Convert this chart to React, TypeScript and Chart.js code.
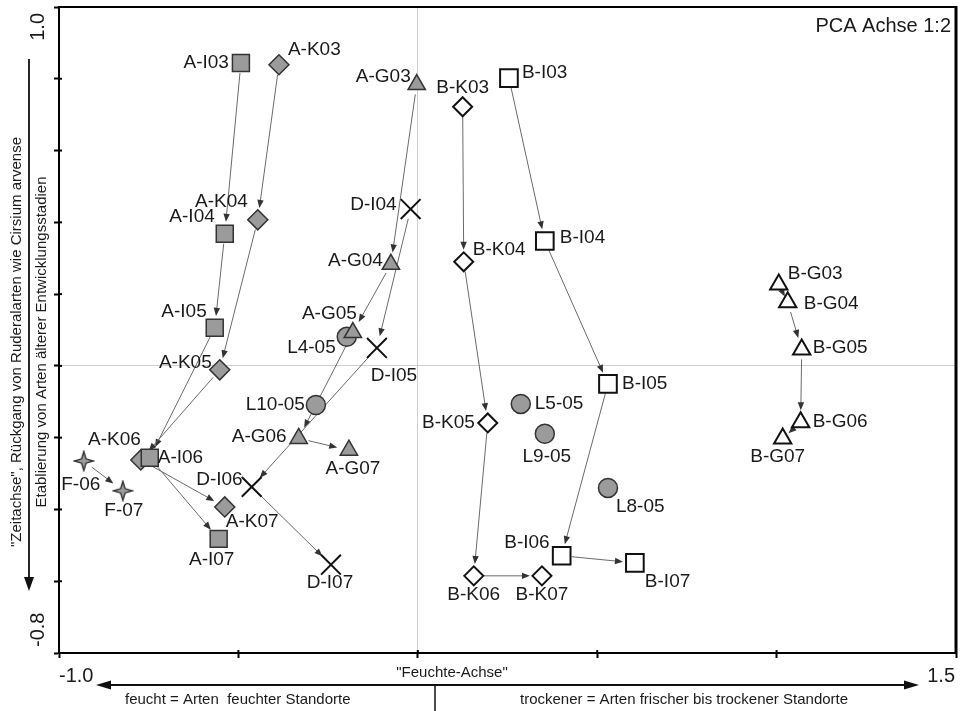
import React, { useEffect, useRef } from 'react';
import { Chart, registerables } from 'chart.js';

Chart.register(...registerables);

// ---- axis tick labels ----
const xTickValues = [-1.0, 1.5];
const xTickLabels = ['-1.0', '1.5'];
const yTickValues = [1.0, -0.8];
const yTickLabels = ['1.0', '-0.8'];

// ---- data (PCA scores) ----
const aiNames = ['A-I03', 'A-I04', 'A-I05', 'A-I06', 'A-I07'];
const aiX = [-0.493, -0.538, -0.566, -0.747, -0.555];
const aiY = [0.844, 0.368, 0.106, -0.256, -0.482];

const akNames = ['A-K03', 'A-K04', 'A-K05', 'A-K06', 'A-K07'];
const akX = [-0.387, -0.446, -0.552, -0.772, -0.538];
const akY = [0.839, 0.407, -0.011, -0.262, -0.393];

const agNames = ['A-G03', 'A-G04', 'A-G05', 'A-G06', 'A-G07'];
const agX = [-0.003, -0.075, -0.181, -0.332, -0.192];
const agY = [0.784, 0.283, 0.093, -0.202, -0.235];

const diNames = ['D-I04', 'D-I05', 'D-I06', 'D-I07'];
const diX = [-0.02, -0.114, -0.463, -0.242];
const diY = [0.437, 0.05, -0.337, -0.554];

const lNames = ['L4-05', 'L10-05', 'L5-05', 'L9-05', 'L8-05'];
const lX = [-0.198, -0.284, 0.287, 0.354, 0.53];
const lY = [0.081, -0.109, -0.106, -0.189, -0.34];

const fNames = ['F-06', 'F-07'];
const fX = [-0.931, -0.822];
const fY = [-0.265, -0.348];

const bkNames = ['B-K03', 'B-K04', 'B-K05', 'B-K06', 'B-K07'];
const bkX = [0.125, 0.128, 0.195, 0.156, 0.346];
const bkY = [0.722, 0.29, -0.159, -0.585, -0.585];

const biNames = ['B-I03', 'B-I04', 'B-I05', 'B-I06', 'B-I07'];
const biX = [0.254, 0.354, 0.53, 0.401, 0.605];
const biY = [0.802, 0.348, -0.05, -0.529, -0.549];

const bgNames = ['B-G03', 'B-G04', 'B-G05', 'B-G06', 'B-G07'];
const bgX = [1.006, 1.031, 1.07, 1.067, 1.017];
const bgY = [0.227, 0.177, 0.046, -0.157, -0.202];

// ---- label placement (style: pixel offset dx, dy and alignment) ----
type Pos = [number, number, CanvasTextAlign];
const aiPos: Pos[] = [[-12, 0, 'right'], [-10, -17, 'right'], [-8, -16, 'right'], [8, 0, 'left'], [-7, 21, 'center']];
const akPos: Pos[] = [[9, -15, 'left'], [-10, -18, 'right'], [-8, -7, 'right'], [0, -20, 'right'], [1, 15, 'left']];
const agPos: Pos[] = [[-6, -8, 'right'], [-8, -4, 'right'], [4, -19, 'right'], [-12, -2, 'right'], [4, 19, 'center']];
const diPos: Pos[] = [[-14, -4, 'right'], [17, 28, 'center'], [-9, -7, 'right'], [-1, 18, 'center']];
const lPos: Pos[] = [[-11, 11, 'right'], [-11, 0, 'right'], [14, 0, 'left'], [2, 23, 'center'], [8, 19, 'left']];
const fPos: Pos[] = [[-3, 24, 'center'], [1, 20, 'center']];
const bkPos: Pos[] = [[0, -19, 'center'], [9, -12, 'left'], [-13, 0, 'right'], [0, 19, 'center'], [0, 19, 'center']];
const biPos: Pos[] = [[13, -5, 'left'], [15, -3, 'left'], [14, 0, 'left'], [-12, -13, 'right'], [10, 19, 'left']];
const bgPos: Pos[] = [[9, -11, 'left'], [16, 1, 'left'], [11, -2, 'left'], [12, 0, 'left'], [-5, 18, 'center']];

const GRAY = '#9b9b9b';
const FONT = "'Liberation Sans', Arial, sans-serif";

function makeStar(): HTMLCanvasElement {
  const c = document.createElement('canvas');
  c.width = 22;
  c.height = 22;
  const g = c.getContext('2d')!;
  g.beginPath();
  g.moveTo(11, 1.5);
  g.lineTo(13.2, 8.8);
  g.lineTo(20.5, 11);
  g.lineTo(13.2, 13.2);
  g.lineTo(11, 20.5);
  g.lineTo(8.8, 13.2);
  g.lineTo(1.5, 11);
  g.lineTo(8.8, 8.8);
  g.closePath();
  g.fillStyle = GRAY;
  g.fill();
  g.lineWidth = 1.4;
  g.strokeStyle = '#333';
  g.stroke();
  return c;
}

function drawArrow(ctx: CanvasRenderingContext2D, x1: number, y1: number, x2: number, y2: number) {
  const dx = x2 - x1;
  const dy = y2 - y1;
  const d = Math.hypot(dx, dy);
  if (d < 1) return;
  const ux = dx / d;
  const uy = dy / d;
  let sg = 10;
  let eg = 12;
  if (d < 40) {
    sg = d * 0.3;
    eg = d * 0.32;
  }
  const sx = x1 + ux * sg;
  const sy = y1 + uy * sg;
  const ex = x2 - ux * eg;
  const ey = y2 - uy * eg;
  const hl = Math.min(8, (d - sg - eg) * 0.8 + 3);
  const hw = 3.2;
  ctx.strokeStyle = '#6a6a6a';
  ctx.lineWidth = 1;
  ctx.beginPath();
  ctx.moveTo(sx, sy);
  ctx.lineTo(ex - ux * hl * 0.8, ey - uy * hl * 0.8);
  ctx.stroke();
  ctx.fillStyle = '#333';
  ctx.beginPath();
  ctx.moveTo(ex, ey);
  ctx.lineTo(ex - ux * hl - uy * hw, ey - uy * hl + ux * hw);
  ctx.lineTo(ex - ux * hl + uy * hw, ey - uy * hl - ux * hw);
  ctx.closePath();
  ctx.fill();
}

export default function App() {
  const ref = useRef<HTMLCanvasElement | null>(null);

  useEffect(() => {
    document.body.style.margin = '0';
    const star = makeStar();
    const groups = [
      { names: aiNames, xs: aiX, ys: aiY, pos: aiPos, style: 'rect', r: 12, fill: GRAY, stroke: '#333', bw: 1.5, arrows: true },
      { names: akNames, xs: akX, ys: akY, pos: akPos, style: 'rectRot', r: 10, fill: GRAY, stroke: '#333', bw: 1.5, arrows: true },
      { names: agNames, xs: agX, ys: agY, pos: agPos, style: 'triangle', r: 10, fill: GRAY, stroke: '#333', bw: 1.5, arrows: true },
      { names: diNames, xs: diX, ys: diY, pos: diPos, style: 'crossRot', r: 14, fill: '#000', stroke: '#111', bw: 2, arrows: true },
      { names: lNames, xs: lX, ys: lY, pos: lPos, style: 'circle', r: 9.5, fill: GRAY, stroke: '#333', bw: 1.5, arrows: false },
      { names: fNames, xs: fX, ys: fY, pos: fPos, style: star as any, r: 11, fill: GRAY, stroke: '#333', bw: 1.3, arrows: true },
      { names: bkNames, xs: bkX, ys: bkY, pos: bkPos, style: 'rectRot', r: 9.5, fill: '#fff', stroke: '#111', bw: 2, arrows: true },
      { names: biNames, xs: biX, ys: biY, pos: biPos, style: 'rect', r: 12.5, fill: '#fff', stroke: '#111', bw: 2, arrows: true },
      { names: bgNames, xs: bgX, ys: bgY, pos: bgPos, style: 'triangle', r: 10, fill: '#fff', stroke: '#111', bw: 2, arrows: true },
    ];

    const datasets = groups.map((g) => ({
      label: g.names[0],
      data: g.xs.map((x, i) => ({ x, y: g.ys[i] })),
      pointStyle: g.style,
      pointRadius: g.r,
      pointBackgroundColor: g.fill,
      pointBorderColor: g.stroke,
      pointBorderWidth: g.bw,
      showLine: false,
    }));

    const decor = {
      id: 'decor',
      beforeDatasetsDraw(chart: any) {
        const { ctx, scales } = chart;
        const sx = scales.x;
        const sy = scales.y;
        ctx.save();
        for (const g of groups) {
          if (!g.arrows) continue;
          for (let i = 0; i < g.xs.length - 1; i++) {
            drawArrow(
              ctx,
              sx.getPixelForValue(g.xs[i]),
              sy.getPixelForValue(g.ys[i]),
              sx.getPixelForValue(g.xs[i + 1]),
              sy.getPixelForValue(g.ys[i + 1])
            );
          }
        }
        ctx.restore();
      },
      afterDatasetsDraw(chart: any) {
        const { ctx, scales } = chart;
        const sx = scales.x;
        const sy = scales.y;
        ctx.save();
        ctx.font = `19px ${FONT}`;
        ctx.fillStyle = '#1a1a1a';
        ctx.textBaseline = 'middle';
        for (const g of groups) {
          g.names.forEach((n, i) => {
            const [dx, dy, al] = g.pos[i];
            ctx.textAlign = al;
            ctx.fillText(n, sx.getPixelForValue(g.xs[i]) + dx, sy.getPixelForValue(g.ys[i]) + dy);
          });
        }
        ctx.restore();
      },
      afterDraw(chart: any) {
        const { ctx, chartArea, scales } = chart;
        const sx = scales.x;
        const sy = scales.y;
        const { left, right, top, bottom } = chartArea;
        ctx.save();
        // frame top & right
        ctx.strokeStyle = '#000';
        ctx.lineWidth = 2;
        ctx.beginPath();
        ctx.moveTo(left, top);
        ctx.lineTo(right, top);
        ctx.stroke();
        ctx.lineWidth = 3;
        ctx.beginPath();
        ctx.moveTo(right, top - 1);
        ctx.lineTo(right, bottom + 1);
        ctx.stroke();

        // inward parts of the tick marks
        ctx.lineWidth = 2;
        sx.ticks.forEach((t: any) => {
          const px = sx.getPixelForValue(t.value);
          ctx.beginPath();
          ctx.moveTo(px, bottom);
          ctx.lineTo(px, bottom - 3);
          ctx.stroke();
        });
        sy.ticks.forEach((t: any) => {
          const py = sy.getPixelForValue(t.value);
          ctx.beginPath();
          ctx.moveTo(left, py);
          ctx.lineTo(left + 3, py);
          ctx.stroke();
        });

        // corner title
        ctx.fillStyle = '#1a1a1a';
        ctx.font = `20px ${FONT}`;
        ctx.textAlign = 'right';
        ctx.textBaseline = 'middle';
        ctx.fillText('PCA Achse 1:2', right - 5, top + 19);

        // x tick labels
        ctx.font = `20px ${FONT}`;
        ctx.textBaseline = 'middle';
        xTickValues.forEach((v, i) => {
          const px = sx.getPixelForValue(v);
          ctx.textAlign = i === 0 ? 'left' : 'right';
          ctx.fillText(xTickLabels[i], px + (i === 0 ? 0 : -1), bottom + 23);
        });
        // y tick labels (rotated)
        yTickValues.forEach((v, i) => {
          const py = sy.getPixelForValue(v);
          ctx.save();
          ctx.translate(38, i === 0 ? py + 6 : py - 6);
          ctx.rotate(-Math.PI / 2);
          ctx.textAlign = i === 0 ? 'right' : 'left';
          ctx.textBaseline = 'middle';
          ctx.fillText(yTickLabels[i], 0, 0);
          ctx.restore();
        });

        // left vertical arrow and titles
        ctx.strokeStyle = '#111';
        ctx.fillStyle = '#111';
        ctx.lineWidth = 1.8;
        ctx.beginPath();
        ctx.moveTo(29, 59);
        ctx.lineTo(29, 580);
        ctx.stroke();
        ctx.beginPath();
        ctx.moveTo(29, 591);
        ctx.lineTo(24, 577);
        ctx.lineTo(34, 577);
        ctx.closePath();
        ctx.fill();

        ctx.fillStyle = '#1a1a1a';
        ctx.font = `15px ${FONT}`;
        ctx.save();
        ctx.translate(17, 342);
        ctx.rotate(-Math.PI / 2);
        ctx.textAlign = 'center';
        ctx.textBaseline = 'middle';
        ctx.fillText('"Zeitachse", Rückgang von Ruderalarten wie Cirsium arvense', 0, 0);
        ctx.restore();
        ctx.save();
        ctx.translate(42, 342);
        ctx.rotate(-Math.PI / 2);
        ctx.textAlign = 'center';
        ctx.textBaseline = 'middle';
        ctx.fillText('Etablierung von Arten älterer Entwicklungsstadien', 0, 0);
        ctx.restore();

        // bottom arrow and texts
        ctx.strokeStyle = '#111';
        ctx.fillStyle = '#111';
        ctx.lineWidth = 1.8;
        ctx.beginPath();
        ctx.moveTo(106, 685);
        ctx.lineTo(909, 685);
        ctx.stroke();
        ctx.beginPath();
        ctx.moveTo(96, 685);
        ctx.lineTo(111, 680.5);
        ctx.lineTo(111, 689.5);
        ctx.closePath();
        ctx.fill();
        ctx.beginPath();
        ctx.moveTo(919, 685);
        ctx.lineTo(904, 680.5);
        ctx.lineTo(904, 689.5);
        ctx.closePath();
        ctx.fill();
        ctx.lineWidth = 1.5;
        ctx.beginPath();
        ctx.moveTo(435, 685);
        ctx.lineTo(435, 711);
        ctx.stroke();

        ctx.fillStyle = '#1a1a1a';
        ctx.font = `15px ${FONT}`;
        ctx.textAlign = 'center';
        ctx.textBaseline = 'middle';
        ctx.fillText('"Feuchte-Achse"', 452, 673);
        ctx.textAlign = 'left';
        ctx.fillText('feucht = Arten  feuchter Standorte', 125, 700);
        ctx.fillText('trockener = Arten frischer bis trockener Standorte', 520, 700);
        ctx.restore();
      },
    };

    const chart = new Chart(ref.current!, {
      type: 'scatter',
      data: { datasets: datasets as any },
      options: {
        responsive: false,
        animation: false,
        events: [],
        layout: { autoPadding: false, padding: { top: 7, right: 8, left: 0, bottom: 0 } },
        plugins: { legend: { display: false }, tooltip: { enabled: false } },
        scales: {
          x: {
            type: 'linear',
            min: -1.0,
            max: 1.5,
            ticks: { display: false, stepSize: 0.5 },
            grid: {
              color: (c: any) => (c.tick && Math.abs(c.tick.value) < 1e-9 ? '#cfcfcf' : 'rgba(0,0,0,0)'),
              lineWidth: 1,
              drawTicks: true,
              tickLength: 5,
              tickColor: '#000',
              tickWidth: 2,
            },
            border: { display: true, color: '#000', width: 2 },
            afterFit: (s: any) => {
              s.height = 58;
            },
          },
          y: {
            type: 'linear',
            min: -0.8,
            max: 1.0,
            ticks: { display: false, stepSize: 0.2 },
            grid: {
              color: (c: any) => (c.tick && Math.abs(c.tick.value) < 1e-9 ? '#cfcfcf' : 'rgba(0,0,0,0)'),
              lineWidth: 1,
              drawTicks: true,
              tickLength: 5,
              tickColor: '#000',
              tickWidth: 2,
            },
            border: { display: true, color: '#000', width: 2 },
            afterFit: (s: any) => {
              s.width = 59;
            },
          },
        },
      },
      plugins: [decor as any],
    });

    return () => chart.destroy();
  }, []);

  return (
    <div style={{ width: 964, height: 711, background: '#fff' }}>
      <canvas ref={ref} width={964} height={711} style={{ display: 'block' }} />
    </div>
  );
}
